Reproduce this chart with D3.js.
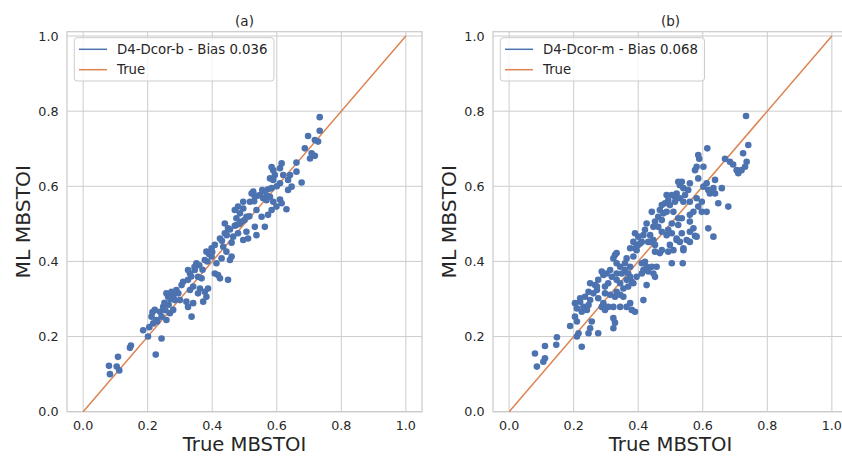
<!DOCTYPE html>
<html>
<head>
<meta charset="utf-8">
<script src="https://cdn.jsdelivr.net/npm/d3@7"></script>
<style>
  body { margin: 0; background: #fff; }
  svg { font-family: "DejaVu Sans", sans-serif; }
</style>
</head>
<body>
<div id="chart"></div>
<script>
// Values (true MBSTOI vs ML MBSTOI)
const titles = ["(a)", "(b)"];
const seriesNames = ["D4-Dcor-b - Bias 0.036", "D4-Dcor-m - Bias 0.068"];
const refName = "True";
const ticks = [0.0, 0.2, 0.4, 0.6, 0.8, 1.0];

const aTrue = [0.080, 0.083, 0.104, 0.112, 0.108, 0.145, 0.148, 0.225, 0.243, 0.186,
  0.201, 0.217, 0.212, 0.227, 0.222, 0.238, 0.248, 0.243, 0.258, 0.269,
  0.279, 0.263, 0.258, 0.274, 0.289, 0.284, 0.300, 0.305, 0.310, 0.320,
  0.325, 0.336, 0.341, 0.331, 0.341, 0.325, 0.331, 0.325, 0.346, 0.356,
  0.367, 0.362, 0.377, 0.387, 0.382, 0.372, 0.356, 0.351, 0.377, 0.382,
  0.398, 0.398, 0.408, 0.418, 0.424, 0.449, 0.413, 0.429, 0.408, 0.424,
  0.434, 0.444, 0.460, 0.455, 0.439, 0.449, 0.465, 0.480, 0.475, 0.491,
  0.506, 0.511, 0.532, 0.537, 0.563, 0.496, 0.439, 0.733, 0.697, 0.733,
  0.728, 0.718, 0.687, 0.708, 0.718, 0.703, 0.661, 0.615, 0.610, 0.584,
  0.589, 0.661, 0.641, 0.594, 0.579, 0.589, 0.635, 0.677, 0.646, 0.610,
  0.635, 0.584, 0.573, 0.563, 0.527, 0.522, 0.532, 0.548, 0.558, 0.568,
  0.579, 0.589, 0.610, 0.615, 0.599, 0.584, 0.630, 0.573, 0.553, 0.537,
  0.517, 0.496, 0.496, 0.480, 0.470, 0.486, 0.475, 0.506,
  0.252, 0.265, 0.280, 0.295, 0.270, 0.255, 0.335, 0.345, 0.360, 0.370,
  0.390, 0.385, 0.400, 0.445, 0.455, 0.470, 0.485, 0.500, 0.515, 0.460,
  0.430, 0.540, 0.555, 0.570, 0.530, 0.600, 0.620, 0.205, 0.230, 0.215];
const aPred = [0.122, 0.100, 0.120, 0.110, 0.146, 0.170, 0.176, 0.152, 0.195, 0.217,
  0.200, 0.235, 0.253, 0.244, 0.271, 0.266, 0.279, 0.253, 0.244, 0.262,
  0.271, 0.306, 0.315, 0.319, 0.324, 0.297, 0.297, 0.337, 0.346, 0.293,
  0.279, 0.253, 0.289, 0.324, 0.333, 0.351, 0.368, 0.377, 0.377, 0.359,
  0.355, 0.328, 0.319, 0.328, 0.306, 0.293, 0.315, 0.395, 0.404, 0.426,
  0.435, 0.413, 0.368, 0.364, 0.355, 0.351, 0.395, 0.408, 0.444, 0.461,
  0.439, 0.426, 0.413, 0.404, 0.475, 0.488, 0.466, 0.475, 0.497, 0.506,
  0.479, 0.461, 0.492, 0.470, 0.492, 0.457, 0.501, 0.784, 0.734, 0.748,
  0.719, 0.723, 0.701, 0.688, 0.681, 0.674, 0.663, 0.661, 0.648, 0.651,
  0.643, 0.639, 0.630, 0.630, 0.621, 0.617, 0.617, 0.610, 0.599, 0.608,
  0.590, 0.595, 0.592, 0.586, 0.586, 0.581, 0.572, 0.577, 0.568, 0.563,
  0.572, 0.559, 0.565, 0.555, 0.546, 0.537, 0.539, 0.524, 0.519, 0.537,
  0.559, 0.559, 0.541, 0.546, 0.537, 0.528, 0.515, 0.519,
  0.290, 0.285, 0.310, 0.315, 0.300, 0.270, 0.360, 0.385, 0.390, 0.378,
  0.420, 0.400, 0.425, 0.470, 0.485, 0.495, 0.500, 0.510, 0.520, 0.450,
  0.455, 0.575, 0.590, 0.575, 0.560, 0.600, 0.630, 0.225, 0.240, 0.265];

const bTrue = [0.080, 0.086, 0.111, 0.111, 0.106, 0.148, 0.146, 0.189, 0.204, 0.210,
  0.215, 0.210, 0.225, 0.246, 0.251, 0.256, 0.276, 0.210, 0.204, 0.220,
  0.230, 0.225, 0.241, 0.246, 0.220, 0.235, 0.251, 0.246, 0.261, 0.272,
  0.276, 0.287, 0.297, 0.292, 0.307, 0.323, 0.344, 0.323, 0.328, 0.323,
  0.251, 0.266, 0.276, 0.272, 0.297, 0.307, 0.297, 0.313, 0.328, 0.333,
  0.344, 0.354, 0.375, 0.380, 0.390, 0.364, 0.416, 0.426, 0.369, 0.354,
  0.380, 0.375, 0.364, 0.344, 0.333, 0.318, 0.302, 0.287, 0.313, 0.292,
  0.333, 0.349, 0.359, 0.369, 0.375, 0.359, 0.333, 0.344, 0.323, 0.328,
  0.364, 0.385, 0.395, 0.411, 0.421, 0.426, 0.416, 0.431, 0.442, 0.447,
  0.452, 0.411, 0.395, 0.385, 0.385, 0.406, 0.431, 0.452, 0.375, 0.504,
  0.538, 0.540, 0.457, 0.633, 0.576, 0.550, 0.509, 0.467, 0.498, 0.519,
  0.734, 0.741, 0.725, 0.736, 0.731, 0.720, 0.710, 0.705, 0.694, 0.684,
  0.669, 0.614, 0.586, 0.589, 0.581, 0.602, 0.576, 0.586, 0.560, 0.535,
  0.524, 0.529, 0.540, 0.555, 0.519, 0.545, 0.529, 0.514, 0.504, 0.488,
  0.493, 0.483, 0.498, 0.514, 0.540, 0.473, 0.467, 0.478, 0.442, 0.462,
  0.452, 0.473, 0.488, 0.509, 0.524, 0.535, 0.560, 0.571, 0.586, 0.597,
  0.612, 0.597, 0.622, 0.638, 0.633, 0.648, 0.679, 0.659, 0.638, 0.612,
  0.602, 0.617, 0.581, 0.560, 0.560, 0.571, 0.560, 0.535, 0.524, 0.504,
  0.493, 0.504, 0.488, 0.473, 0.462, 0.447, 0.426, 0.421, 0.416, 0.437,
  0.447, 0.437, 0.411, 0.400, 0.390, 0.400, 0.390, 0.617, 0.540, 0.473,
  0.493, 0.452, 0.333, 0.529, 0.519, 0.560, 0.581];
const bPred = [0.155, 0.120, 0.175, 0.142, 0.133, 0.198, 0.178, 0.228, 0.253, 0.240,
  0.209, 0.200, 0.173, 0.209, 0.222, 0.240, 0.209, 0.275, 0.289, 0.293,
  0.279, 0.266, 0.271, 0.284, 0.302, 0.306, 0.297, 0.319, 0.315, 0.324,
  0.302, 0.279, 0.271, 0.289, 0.279, 0.279, 0.279, 0.249, 0.237, 0.222,
  0.342, 0.337, 0.351, 0.333, 0.333, 0.342, 0.315, 0.311, 0.306, 0.319,
  0.311, 0.306, 0.289, 0.271, 0.266, 0.279, 0.297, 0.337, 0.333, 0.328,
  0.346, 0.359, 0.351, 0.342, 0.351, 0.359, 0.368, 0.373, 0.377, 0.364,
  0.368, 0.368, 0.377, 0.368, 0.386, 0.395, 0.395, 0.386, 0.408, 0.417,
  0.408, 0.413, 0.430, 0.395, 0.399, 0.386, 0.377, 0.373, 0.386, 0.368,
  0.359, 0.368, 0.359, 0.342, 0.452, 0.448, 0.452, 0.444, 0.435, 0.395,
  0.395, 0.435, 0.386, 0.466, 0.468, 0.457, 0.430, 0.422, 0.444, 0.457,
  0.787, 0.710, 0.688, 0.665, 0.652, 0.643, 0.635, 0.643, 0.658, 0.665,
  0.673, 0.701, 0.683, 0.673, 0.652, 0.652, 0.643, 0.621, 0.608, 0.612,
  0.612, 0.603, 0.595, 0.590, 0.581, 0.577, 0.568, 0.572, 0.577, 0.577,
  0.563, 0.555, 0.550, 0.559, 0.559, 0.550, 0.537, 0.528, 0.532, 0.519,
  0.506, 0.510, 0.532, 0.532, 0.515, 0.515, 0.524, 0.532, 0.546, 0.532,
  0.532, 0.559, 0.581, 0.581, 0.595, 0.555, 0.546, 0.595, 0.617, 0.608,
  0.599, 0.590, 0.568, 0.559, 0.506, 0.488, 0.479, 0.475, 0.497, 0.501,
  0.484, 0.475, 0.470, 0.479, 0.492, 0.492, 0.501, 0.484, 0.470, 0.470,
  0.457, 0.452, 0.452, 0.466, 0.475, 0.444, 0.435, 0.488, 0.430, 0.430,
  0.426, 0.426, 0.422, 0.452, 0.461, 0.452, 0.466];

const blue = "#4c72b0";
const orange = "#dd8452";
const gridColor = "#cccccc";
const textColor = "#262626";

const width = 842, height = 456;
const svg = d3.select("#chart").append("svg")
    .attr("width", width)
    .attr("height", height);

const plotTop = 31.7, plotBottom = 411.7, panelWidth = 355;
const panelLefts = [67, 493];
const series = [[aTrue, aPred], [bTrue, bPred]];

const y = d3.scaleLinear().domain([0, 1.0115]).range([plotBottom, plotTop]);

panelLefts.forEach((left, i) => {
    const x = d3.scaleLinear().domain([-0.05, 1.05]).range([left, left + panelWidth]);
    const g = svg.append("g");

    // grid
    g.selectAll(".vg").data(ticks).enter().append("line")
        .attr("x1", d => x(d)).attr("x2", d => x(d))
        .attr("y1", plotTop).attr("y2", plotBottom)
        .attr("stroke", gridColor).attr("stroke-width", 1);
    g.selectAll(".hg").data(ticks).enter().append("line")
        .attr("x1", left).attr("x2", left + panelWidth)
        .attr("y1", d => y(d)).attr("y2", d => y(d))
        .attr("stroke", gridColor).attr("stroke-width", 1);

    // frame
    g.append("rect")
        .attr("x", left).attr("y", plotTop)
        .attr("width", panelWidth).attr("height", plotBottom - plotTop)
        .attr("fill", "none").attr("stroke", gridColor).attr("stroke-width", 1.25);

    // tick labels
    g.selectAll(".xt").data(ticks).enter().append("text")
        .attr("x", d => x(d)).attr("y", plotBottom + 17.8)
        .attr("text-anchor", "middle")
        .attr("font-size", 12.7).attr("fill", textColor)
        .text(d => d.toFixed(1));
    g.selectAll(".yt").data(ticks).enter().append("text")
        .attr("x", left - 8.5).attr("y", d => y(d))
        .attr("dy", "0.36em")
        .attr("text-anchor", "end")
        .attr("font-size", 12.7).attr("fill", textColor)
        .text(d => d.toFixed(1));

    // axis labels and title
    g.append("text")
        .attr("x", left + panelWidth / 2).attr("y", 451)
        .attr("text-anchor", "middle")
        .attr("font-size", 19.6).attr("fill", textColor)
        .text("True MBSTOI");
    g.append("text")
        .attr("transform", `translate(${left - 37},${(plotTop + plotBottom) / 2}) rotate(-90)`)
        .attr("text-anchor", "middle")
        .attr("font-size", 20.3).attr("fill", textColor)
        .text("ML MBSTOI");
    g.append("text")
        .attr("x", left + panelWidth / 2).attr("y", 26)
        .attr("text-anchor", "middle")
        .attr("font-size", 13.5).attr("fill", textColor)
        .text(titles[i]);

    // reference line
    g.append("line")
        .attr("x1", x(0)).attr("y1", y(0))
        .attr("x2", x(1)).attr("y2", y(1))
        .attr("stroke", orange).attr("stroke-width", 1.5);

    // scatter
    const [tx, ty] = series[i];
    g.append("g").selectAll("circle")
        .data(tx.map((v, k) => [v, ty[k]]))
        .enter().append("circle")
        .attr("cx", d => x(d[0])).attr("cy", d => y(d[1]))
        .attr("r", 3.3)
        .attr("fill", blue);

    // legend
    const lg = g.append("g").attr("transform", `translate(${left + 7.3},${plotTop + 6})`);
    const box = lg.append("rect")
        .attr("rx", 3).attr("ry", 3)
        .attr("fill", "white").attr("fill-opacity", 0.8)
        .attr("stroke", gridColor).attr("stroke-width", 1);
    const entries = [[seriesNames[i], blue], [refName, orange]];
    let maxW = 0;
    entries.forEach(([name, c], k) => {
        const ly = 11.6 + k * 20.4;
        lg.append("line")
            .attr("x1", 4.7).attr("x2", 32.7)
            .attr("y1", ly).attr("y2", ly)
            .attr("stroke", c).attr("stroke-width", 1.5);
        const t = lg.append("text")
            .attr("x", 42.7).attr("y", ly + 4.8)
            .attr("font-size", 13.3).attr("fill", textColor)
            .text(name);
        maxW = Math.max(maxW, t.node().getComputedTextLength());
    });
    box.attr("width", 42.7 + maxW + 6.5).attr("height", 43.3);
});
</script>
</body>
</html>
